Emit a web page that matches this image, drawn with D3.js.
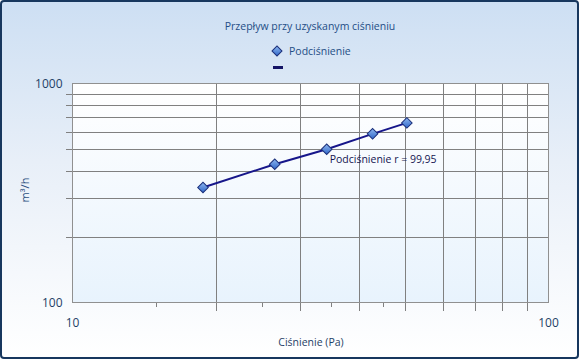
<!DOCTYPE html>
<html><head><meta charset="utf-8">
<script src="https://cdn.jsdelivr.net/npm/d3@7"></script>
<style>body{margin:0;background:#fff}svg{display:block}</style>
</head><body>
<svg id="c" width="580" height="360"></svg>
<script>
const pressure = [18.8, 26.6, 34.2, 42.7, 50.4];
const flow = [335, 428, 501, 589, 661];
const seriesName = "Podciśnienie";
const title = "Przepływ przy uzyskanym ciśnieniu";
const xTitle = "Ciśnienie (Pa)";
const yTitle = "m³/h";
const xTickLabels = [10, 100];
const yTickLabels = [100, 1000];
const xGrid = [20, 30, 40, 50, 60, 70, 80, 90];
const xMinor = [15, 25, 35, 45];
const yGrid = [200, 300, 400, 500, 600, 700, 800, 900];
const annotation = "Podciśnienie r = 99,95";

const svg = d3.select("#c");
const font = "'Open Sans', sans-serif";
const defs = svg.append("defs");
const bg = defs.append("linearGradient").attr("id","bg").attr("x1",0).attr("y1",0).attr("x2",0).attr("y2",1);
bg.append("stop").attr("offset","0%").attr("stop-color","#cddff3");
bg.append("stop").attr("offset","45%").attr("stop-color","#e8eff8");
bg.append("stop").attr("offset","100%").attr("stop-color","#ffffff");
const pg = defs.append("linearGradient").attr("id","pg").attr("x1",0).attr("y1",0).attr("x2",0).attr("y2",1);
pg.append("stop").attr("offset","0%").attr("stop-color","#ffffff");
pg.append("stop").attr("offset","100%").attr("stop-color","#e8f3fd");
const mg = defs.append("linearGradient").attr("id","mg").attr("x1",0).attr("y1",0).attr("x2",1).attr("y2",1);
mg.append("stop").attr("offset","0%").attr("stop-color","#8fb8f0");
mg.append("stop").attr("offset","100%").attr("stop-color","#2f66c8");

svg.append("rect").attr("x",1).attr("y",1).attr("width",577).attr("height",357).attr("rx",3)
  .attr("fill","url(#bg)").attr("stroke","#17375e").attr("stroke-width",2);

const L=72.5, R=548.5, T=83.5, B=302.5;
const x = d3.scaleLog().domain([10,100]).range([L,R]);
const y = d3.scaleLog().domain([100,1000]).range([B,T]);

svg.append("rect").attr("x",L).attr("y",T).attr("width",R-L).attr("height",B-T).attr("fill","url(#pg)");

const grid = svg.append("g").attr("stroke","#808080").attr("stroke-width",1).attr("shape-rendering","crispEdges");
grid.selectAll(".vx").data(xGrid).join("line")
  .attr("x1",d=>Math.round(x(d))+0.5).attr("x2",d=>Math.round(x(d))+0.5).attr("y1",T).attr("y2",B+8);
grid.selectAll(".mx").data(xMinor).join("line")
  .attr("x1",d=>Math.round(x(d))+0.5).attr("x2",d=>Math.round(x(d))+0.5).attr("y1",B).attr("y2",B+4);
grid.selectAll(".hy").data(yGrid).join("line")
  .attr("y1",d=>Math.round(y(d))+0.5).attr("y2",d=>Math.round(y(d))+0.5).attr("x1",L-7).attr("x2",R);
svg.append("rect").attr("x",L).attr("y",T).attr("width",R-L).attr("height",B-T)
  .attr("fill","none").attr("stroke","#909090").attr("shape-rendering","crispEdges");

const tickColor = "#1f3f66";
svg.selectAll(".xl").data(xTickLabels).join("text")
  .attr("x",d=>x(d)).attr("y",B+24).attr("text-anchor","middle")
  .attr("font-family",font).attr("font-size",12).attr("fill",tickColor).text(d=>d);
svg.selectAll(".yl").data(yTickLabels).join("text")
  .attr("x",L-10).attr("y",d=>y(d)+4).attr("text-anchor","end")
  .attr("font-family",font).attr("font-size",12).attr("fill",tickColor).text(d=>d);

svg.append("text").attr("x",311).attr("y",346).attr("text-anchor","middle")
  .attr("font-family",font).attr("font-size",10.5).attr("fill",tickColor).text(xTitle);
svg.append("text").attr("transform","translate(29,190) rotate(-90)").attr("text-anchor","middle")
  .attr("font-family",font).attr("font-size",11).attr("fill","#2b4f80").text(yTitle);
svg.append("text").attr("x",310).attr("y",30).attr("text-anchor","middle")
  .attr("font-family",font).attr("font-size",10.5).attr("fill","#1f4e86").text(title);

// legend
svg.append("path").attr("d",d3.symbol().type(d3.symbolSquare).size(50)()).attr("transform","translate(277,51) rotate(45)")
  .attr("fill","url(#mg)").attr("stroke","#1a2f7a").attr("stroke-width",1);
svg.append("text").attr("x",289).attr("y",55).attr("font-family",font).attr("font-size",10.5)
  .attr("fill","#1f4e86").text(seriesName);
svg.append("rect").attr("x",273).attr("y",66).attr("width",10).attr("height",3).attr("fill","#141466");

const data = pressure.map((p,i)=>({p, f: flow[i]}));
svg.append("path").datum(data)
  .attr("d", d3.line().x(d=>x(d.p)).y(d=>y(d.f)))
  .attr("fill","none").attr("stroke","#16168a").attr("stroke-width",2);
svg.selectAll(".pt").data(data).join("path")
  .attr("d",d3.symbol().type(d3.symbolSquare).size(56)())
  .attr("transform",d=>`translate(${x(d.p)},${y(d.f)}) rotate(45)`)
  .attr("fill","url(#mg)").attr("stroke","#1a2f7a").attr("stroke-width",1);

svg.append("text").attr("x",x(pressure[2])+3).attr("y",y(flow[2])+14)
  .attr("font-family",font).attr("font-size",10.5).attr("fill","#141450").text(annotation);
</script>
</body></html>
